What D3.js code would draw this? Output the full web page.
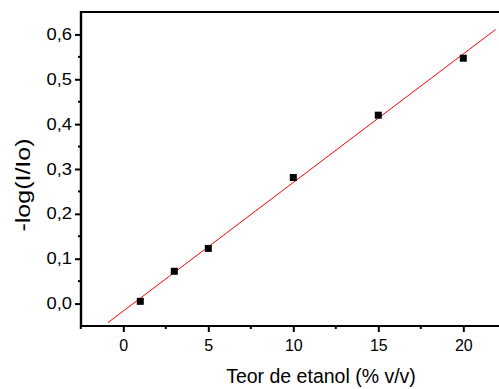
<!DOCTYPE html>
<html>
<head>
<meta charset="utf-8">
<script src="https://cdn.jsdelivr.net/npm/d3@7"></script>
<style>
  html, body { margin: 0; padding: 0; background: #fff; }
  svg { display: block; }
  text { font-family: Arial, "Liberation Sans", sans-serif; fill: #000; }
</style>
</head>
<body>
<svg id="chart" width="499" height="389"></svg>
<script>
// Data
const xValues = [1, 3, 5, 10, 15, 20];
const yValues = [0.005, 0.072, 0.123, 0.281, 0.420, 0.547];
// Linear fit line endpoints (as seen on the plot)
const fitX = [-0.9, 21.9];
const fitY = [-0.0424, 0.611];
const xTicks = [0, 5, 10, 15, 20];
const yTicks = [0.0, 0.1, 0.2, 0.3, 0.4, 0.5, 0.6];
const xLabel = "Teor de etanol (% v/v)";
const yLabel = "-log(I/Io)";

const svg = d3.select("#chart");
const pLeft = 81, pRight = 499, pTop = 12, pBottom = 326;

const x = d3.scaleLinear().domain([0, 20]).range([123.3, 463.3]);
const y = d3.scaleLinear().domain([-0.05, 0.65]).range([pBottom, pTop]);

const fmt = d => d3.format(".1f")(d).replace(".", ",");

// clip for data
svg.append("defs").append("clipPath").attr("id", "clip")
  .append("rect").attr("x", pLeft).attr("y", pTop).attr("width", pRight - pLeft).attr("height", pBottom - pTop);

// fit line
svg.append("g").attr("clip-path", "url(#clip)")
  .append("path")
  .datum(fitX.map((d, i) => [d, fitY[i]]))
  .attr("d", d3.line().x(d => x(d[0])).y(d => y(d[1])))
  .attr("stroke", "#ff0000").attr("stroke-width", 1).attr("fill", "none");

// points
svg.append("g").selectAll("rect").data(xValues.map((d, i) => [d, yValues[i]]))
  .join("rect")
  .attr("x", d => x(d[0]) - 3.5).attr("y", d => y(d[1]) - 3.5)
  .attr("width", 7).attr("height", 7).attr("fill", "#000");

// Y axis (left)
const yMinor = [0.05, 0.15, 0.25, 0.35, 0.45, 0.55];
const yAxis = svg.append("g").attr("transform", `translate(${pLeft},0)`)
  .call(d3.axisLeft(y).tickValues(yTicks).tickFormat(fmt).tickSize(6).tickPadding(3).tickSizeOuter(0));
yAxis.select(".domain").remove();
yAxis.selectAll(".tick line").attr("stroke-width", 2);
yAxis.selectAll(".tick text")
  .style("font-size", "16px").style("font-family", "Arial, 'Liberation Sans', sans-serif")
  .attr("textLength", 25.5).attr("lengthAdjust", "spacingAndGlyphs");
svg.append("g").selectAll("line").data(yMinor).join("line")
  .attr("x1", pLeft - 3).attr("x2", pLeft).attr("y1", d => y(d)).attr("y2", d => y(d))
  .attr("stroke", "#000").attr("stroke-width", 2);

// X axis (bottom)
const xMinor = [-2.5, 2.5, 7.5, 12.5, 17.5];
const xAxis = svg.append("g").attr("transform", `translate(0,${pBottom})`)
  .call(d3.axisBottom(x).tickValues(xTicks).tickFormat(d3.format("d")).tickSize(6).tickPadding(8).tickSizeOuter(0));
xAxis.select(".domain").remove();
xAxis.selectAll(".tick line").attr("stroke-width", 2);
xAxis.selectAll(".tick text").style("font-size", "16px").style("font-family", "Arial, 'Liberation Sans', sans-serif");
svg.append("g").selectAll("line").data(xMinor).join("line")
  .attr("x1", d => x(d)).attr("x2", d => x(d)).attr("y1", pBottom).attr("y2", pBottom + 3)
  .attr("stroke", "#000").attr("stroke-width", 2);

// Frame lines
svg.append("line").attr("x1", pLeft).attr("x2", pRight).attr("y1", pTop).attr("y2", pTop)
  .attr("stroke", "#000").attr("stroke-width", 2.2);
svg.append("line").attr("x1", pLeft).attr("x2", pRight).attr("y1", pBottom).attr("y2", pBottom)
  .attr("stroke", "#000").attr("stroke-width", 2.2);
svg.append("line").attr("x1", pLeft).attr("x2", pLeft).attr("y1", pTop - 1.1).attr("y2", pBottom + 1.1)
  .attr("stroke", "#000").attr("stroke-width", 2.4);

// Axis titles
svg.append("text").attr("x", 321).attr("y", 383).attr("text-anchor", "middle")
  .style("font-size", "19.5px").text(xLabel);
svg.append("text").attr("transform", "translate(30,185) rotate(-90)").attr("text-anchor", "middle")
  .style("font-size", "21px").attr("textLength", 93).attr("lengthAdjust", "spacingAndGlyphs").text(yLabel);
</script>
</body>
</html>
